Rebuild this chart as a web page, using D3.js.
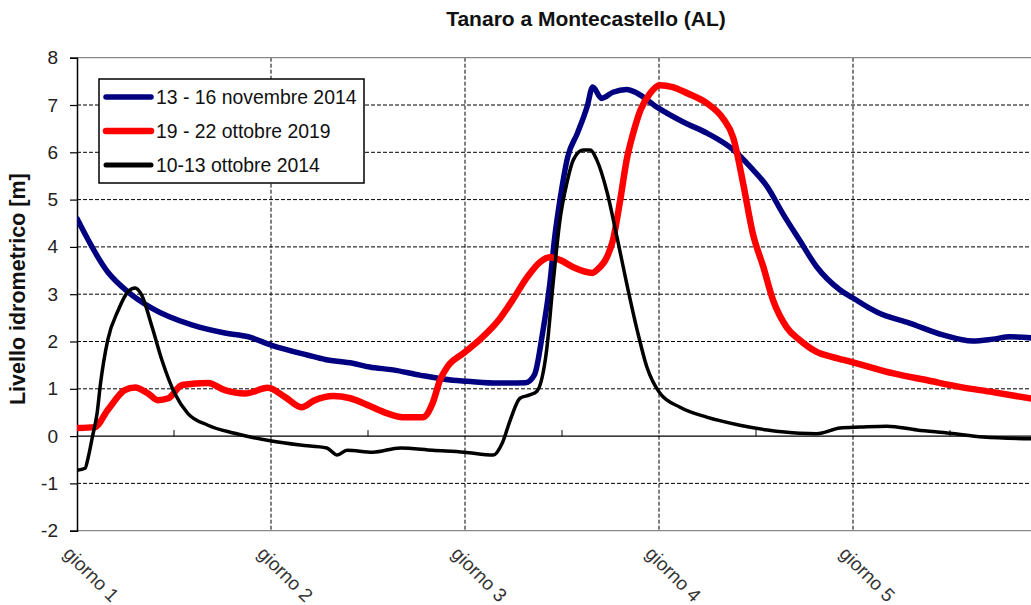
<!DOCTYPE html>
<html><head><meta charset="utf-8">
<script src="https://cdn.jsdelivr.net/npm/d3@7"></script>
<style>body{margin:0;background:#fff}svg{display:block}</style>
</head><body>
<svg id="c" width="1031" height="605"></svg>
<script>
// ---- data (hours from the start of "giorno 1", level in metres) ----
const dayLabels = ["giorno 1", "giorno 2", "giorno 3", "giorno 4", "giorno 5"];
const dayTicks = [0, 24, 48, 72, 96];
const halfDayTicks = [12, 36, 60, 84, 108];
const yTicks = [-2, -1, 0, 1, 2, 3, 4, 5, 6, 7, 8];
const seriesNames = ["13 - 16 novembre 2014", "19 - 22 ottobre 2019", "10-13 ottobre 2014"];
const seriesColors = ["#000080", "#ff0000", "#000000"];

const nov2014Hours = [0, 3.8, 6.3, 9.3, 14.2, 18.3, 21.2, 24.1, 28.6, 30.7, 34.1, 36.2, 39.1, 42.4, 46.5, 48.2, 52.0, 55.5, 56.6, 57.6, 58.5, 59.1, 59.8, 60.7, 61.9, 63.1, 63.8, 64.9, 66.3, 68.0, 69.3, 71.7, 75.0, 78.0, 81.2, 83.3, 85.4, 87.3, 89.4, 91.5, 94.4, 96.0, 98.1, 99.0, 103.0, 107.1, 110.8, 113.3, 115.4, 118.5];
const nov2014Levels = [4.6, 3.47, 3.05, 2.7, 2.35, 2.18, 2.1, 1.92, 1.71, 1.62, 1.54, 1.46, 1.4, 1.29, 1.18, 1.16, 1.12, 1.13, 1.3, 2.18, 3.23, 4.21, 5.05, 5.9, 6.4, 6.96, 7.38, 7.14, 7.27, 7.33, 7.25, 6.96, 6.64, 6.4, 6.05, 5.69, 5.27, 4.71, 4.14, 3.58, 3.09, 2.92, 2.7, 2.62, 2.39, 2.14, 2.01, 2.05, 2.1, 2.07];

const oct2019Hours = [0, 2.2, 3.8, 5.9, 7.2, 8.8, 10.0, 11.3, 13.0, 16.2, 18.3, 20.8, 23.6, 25.7, 27.8, 29.4, 31.7, 33.8, 35.9, 38.4, 40.3, 42.8, 44.0, 44.9, 45.8, 47.8, 49.9, 52.3, 53.9, 55.7, 57.3, 58.5, 59.8, 61.4, 63.8, 64.3, 65.6, 66.3, 67.2, 68.0, 68.8, 69.7, 70.9, 72.1, 73.7, 75.5, 77.9, 79.9, 81.2, 82.4, 83.6, 84.9, 86.1, 87.8, 89.4, 91.5, 93.5, 96.0, 98.1, 100.9, 105.2, 109.2, 113.3, 118.5];
const oct2019Levels = [0.17, 0.19, 0.55, 0.97, 1.03, 0.9, 0.76, 0.8, 1.08, 1.12, 0.97, 0.9, 1.02, 0.83, 0.61, 0.76, 0.85, 0.8, 0.66, 0.48, 0.4, 0.4, 0.7, 1.18, 1.46, 1.75, 2.05, 2.48, 2.88, 3.36, 3.68, 3.78, 3.72, 3.57, 3.45, 3.51, 3.8, 4.14, 4.99, 5.84, 6.4, 6.89, 7.25, 7.42, 7.38, 7.25, 7.04, 6.72, 6.3, 5.35, 4.29, 3.58, 2.88, 2.3, 2.03, 1.78, 1.67, 1.56, 1.46, 1.33, 1.18, 1.04, 0.93, 0.78];

const oct2014Hours = [0, 1.0, 1.4, 1.9, 2.5, 2.9, 3.8, 5.1, 6.3, 7.2, 8.0, 9.3, 10.5, 12.1, 13.7, 16.2, 19.5, 23.9, 27.6, 30.9, 32.2, 33.4, 36.6, 40.0, 44.0, 47.9, 51.5, 52.6, 53.6, 54.8, 56.0, 56.9, 58.1, 58.9, 59.8, 60.6, 61.4, 62.6, 63.5, 64.3, 65.6, 66.8, 68.0, 69.3, 70.5, 72.1, 74.6, 77.9, 82.0, 85.4, 89.4, 91.5, 94.4, 96.9, 100.2, 103.9, 108.0, 112.1, 118.5];
const oct2014Levels = [-0.72, -0.68, -0.44, -0.02, 0.5, 1.1, 2.03, 2.66, 3.05, 3.13, 2.98, 2.3, 1.61, 0.9, 0.48, 0.23, 0.06, -0.1, -0.19, -0.25, -0.4, -0.3, -0.34, -0.25, -0.3, -0.34, -0.4, -0.15, 0.34, 0.8, 0.87, 0.95, 1.82, 3.23, 4.63, 5.35, 5.84, 6.05, 6.05, 5.84, 5.14, 4.21, 3.23, 2.24, 1.46, 0.91, 0.61, 0.4, 0.23, 0.13, 0.06, 0.05, 0.17, 0.19, 0.21, 0.13, 0.06, -0.02, -0.06];

// ---- layout ----
const svg = d3.select("#c");
const plotLeft = 77, plotTop = 57.7, plotBottom = 530.7;
const x = d3.scaleLinear().domain([0, 120]).range([plotLeft, plotLeft + 970]);
const y = d3.scaleLinear().domain([-2, 8]).range([plotBottom, plotTop]);
const W = 1031;
const FONT = "Liberation Sans, Arial, sans-serif";

svg.append("rect").attr("width", 1031).attr("height", 605).attr("fill", "#fff");

// title
svg.append("text").attr("x", 586).attr("y", 26).attr("text-anchor", "middle")
  .attr("font-family", FONT).attr("font-weight", "bold")
  .attr("font-size", 21).attr("fill", "#111").text("Tanaro a Montecastello (AL)");

// y label
svg.append("text").attr("transform", `translate(25,${(plotTop + plotBottom) / 2 - 5}) rotate(-90)`)
  .attr("text-anchor", "middle")
  .attr("font-family", FONT).attr("font-weight", "bold")
  .attr("font-size", 21.5).attr("fill", "#111").text("Livello idrometrico [m]");

// grid horizontal
const g = svg.append("g");
g.selectAll("line.hg").data(yTicks.filter(v => v !== 0 && v !== 8 && v !== -2)).join("line")
  .attr("x1", plotLeft).attr("x2", W).attr("y1", d => y(d)).attr("y2", d => y(d))
  .attr("stroke", "#000").attr("stroke-width", 1).attr("stroke-dasharray", "4,2");
// grid vertical
g.selectAll("line.vg").data(dayTicks.slice(1)).join("line")
  .attr("x1", d => x(d)).attr("x2", d => x(d)).attr("y1", plotTop).attr("y2", plotBottom)
  .attr("stroke", "#000").attr("stroke-width", 1).attr("stroke-dasharray", "4,2");
// borders
g.append("line").attr("x1", plotLeft).attr("x2", W).attr("y1", plotTop).attr("y2", plotTop).attr("stroke", "#888").attr("stroke-width", 1.2);
g.append("line").attr("x1", plotLeft).attr("x2", W).attr("y1", plotBottom).attr("y2", plotBottom).attr("stroke", "#888").attr("stroke-width", 1.2);

// zero line and half-day ticks
g.append("line").attr("x1", plotLeft).attr("x2", W).attr("y1", y(0)).attr("y2", y(0)).attr("stroke", "#000").attr("stroke-width", 1.2);
g.selectAll("line.mt").data(halfDayTicks).join("line")
  .attr("x1", d => x(d)).attr("x2", d => x(d)).attr("y1", y(0)).attr("y2", y(0) - 6)
  .attr("stroke", "#000").attr("stroke-width", 1);

// y axis via d3
const yAxis = d3.axisLeft(y).tickValues(yTicks).tickSize(7).tickPadding(12).tickFormat(d => d);
const ya = svg.append("g").attr("transform", `translate(${plotLeft},0)`).call(yAxis);
ya.select(".domain").attr("stroke", "#000").attr("stroke-width", 1.5);
ya.selectAll(".tick line").attr("stroke", "#000").attr("stroke-width", 1.2);
ya.selectAll("text").attr("font-family", FONT).attr("font-size", 19).attr("fill", "#222");

// x tick labels
svg.selectAll("text.xl").data(dayTicks).join("text")
  .attr("transform", d => `translate(${x(d) - 5},545) rotate(45)`)
  .attr("dy", "0.72em")
  .attr("font-family", FONT).attr("font-size", 19).attr("fill", "#333")
  .text((d, i) => dayLabels[i]);

// clip
svg.append("clipPath").attr("id", "clip").append("rect")
  .attr("x", plotLeft).attr("y", plotTop - 10).attr("width", W - plotLeft).attr("height", plotBottom - plotTop + 20);

const line = d3.line().x(d => x(d[0])).y(d => y(d[1])).curve(d3.curveMonotoneX);
const series = [
  {h: nov2014Hours, v: nov2014Levels, w: 5.5},
  {h: oct2019Hours, v: oct2019Levels, w: 6.5},
  {h: oct2014Hours, v: oct2014Levels, w: 3.5}
];
const lines = svg.append("g").attr("clip-path", "url(#clip)");
series.forEach((s, i) => {
  const pts = s.h.map((hh, k) => [hh, s.v[k]]);
  lines.append("path").attr("d", line(pts)).attr("fill", "none")
    .attr("stroke", seriesColors[i]).attr("stroke-width", s.w)
    .attr("stroke-linejoin", "round").attr("stroke-linecap", "round");
});

// legend
const lg = svg.append("g");
lg.append("rect").attr("x", 99).attr("y", 79).attr("width", 265).attr("height", 104)
  .attr("fill", "#fff").attr("stroke", "#000").attr("stroke-width", 1.5);
const legW = [5.5, 6.5, 5];
seriesNames.forEach((n, i) => {
  const yy = 97 + i * 34;
  lg.append("line").attr("x1", 106).attr("x2", 151).attr("y1", yy).attr("y2", yy)
    .attr("stroke", seriesColors[i]).attr("stroke-width", legW[i]).attr("stroke-linecap", "round");
  lg.append("text").attr("x", 156).attr("y", yy + 7)
    .attr("font-family", FONT).attr("font-size", 19.4).attr("fill", "#111")
    .text(n);
});
</script>
</body></html>
